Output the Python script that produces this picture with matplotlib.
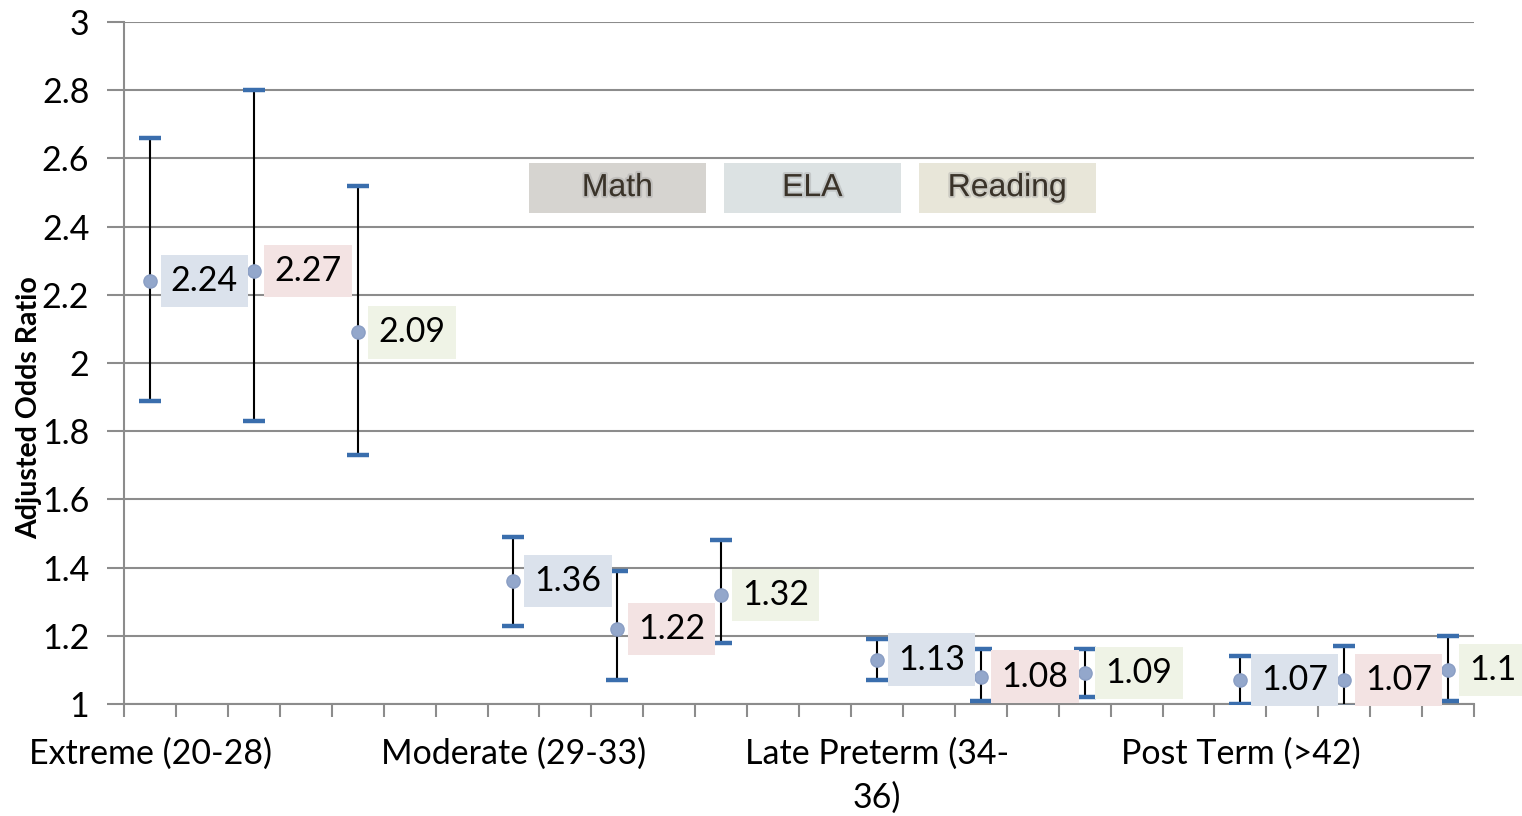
import numpy as np
import matplotlib.pyplot as plt
from matplotlib.patches import Rectangle
import matplotlib.patheffects as pe

plt.rcParams['font.family'] = ['Lato', 'DejaVu Sans']

# 26 category slots, labels every 7 slots
groups = ['Extreme (20-28)', 'Moderate (29-33)', 'Late Preterm (34-\n36)', 'Post Term (>42)']
group_slots = [0, 7, 14, 21]

# three series per group (offsets 0, 2, 4 within group)
series_names = ['Math', 'ELA', 'Reading']
s1_val = [2.24, 1.36, 1.13, 1.07]
s1_hi = [2.66, 1.49, 1.19, 1.14]
s1_lo = [1.89, 1.23, 1.07, 1.00]
s2_val = [2.27, 1.22, 1.08, 1.07]
s2_hi = [2.80, 1.39, 1.16, 1.17]
s2_lo = [1.83, 1.07, 1.01, 0.99]
s3_val = [2.09, 1.32, 1.09, 1.10]
s3_hi = [2.52, 1.48, 1.16, 1.20]
s3_lo = [1.73, 1.18, 1.02, 1.01]

label_colors = ['#dbe2ec', '#f3e3e3', '#eff3e6']
legend_colors = ['#d6d4d0', '#dce2e3', '#e8e6d9']

fig = plt.figure(figsize=(15.22, 8.16), dpi=100)
ax = fig.add_axes([0.0815, 0.1373, 0.887, 0.8357])

series = [(s1_val, s1_hi, s1_lo), (s2_val, s2_hi, s2_lo), (s3_val, s3_hi, s3_lo)]
for k, (val, hi, lo) in enumerate(series):
    x = np.array(group_slots) + 2 * k
    val = np.array(val)
    yerr = [val - np.array(lo), np.array(hi) - val]
    _, caps, bars = ax.errorbar(x, val, yerr=yerr, fmt='none', ecolor='black',
                                elinewidth=1.5, capsize=8, capthick=3.2, zorder=3)
    for c in caps:
        c.set_markeredgecolor('#3a6ead')
        c.set_markerfacecolor('#3a6ead')
        c.set_clip_on(True)
    ax.plot(x, val, 'o', ms=9.5, color='#93a7cb', mec='#8a9ec4', zorder=4,
            clip_on=False)
    for xi, v in zip(x, val):
        ax.annotate('%g' % v, (xi, v), xytext=(15, 0), textcoords='offset points',
                    va='center', ha='left', fontsize=24.5, color='black',
                    bbox=dict(boxstyle='square,pad=0.3', fc=label_colors[k], ec='none'),
                    annotation_clip=False, zorder=5)

ax.set_xlim(-0.5, 25.5)
ax.set_ylim(1, 3)
ax.set_yticks(np.arange(1, 3.01, 0.2))
ax.set_yticklabels(['1', '1.2', '1.4', '1.6', '1.8', '2', '2.2', '2.4', '2.6', '2.8', '3'])
ax.set_xticks(group_slots)
ax.set_xticklabels(groups, linespacing=1.45)
ax.set_xticks(np.arange(-0.5, 25.6, 1), minor=True)
ax.tick_params(axis='x', which='major', length=0, pad=24, labelsize=24.5)
ax.tick_params(axis='x', which='minor', length=9, width=1.5, color='#8c8c8c', direction='out')
ax.tick_params(axis='y', length=12, width=1.5, color='#8c8c8c', pad=13, labelsize=24.5)
ax.grid(axis='y', color='#8c8c8c', lw=1.5)
ax.set_axisbelow(True)
for s in ['top', 'right']:
    ax.spines[s].set_visible(False)
for s in ['left', 'bottom']:
    ax.spines[s].set_color('#8c8c8c')
    ax.spines[s].set_linewidth(1.5)

ax.set_ylabel('Adjusted Odds Ratio', fontsize=20.5, fontweight='bold')
ax.yaxis.set_label_coords(-0.061, 0.435)

# legend boxes
for i, name in enumerate(series_names):
    x0 = 0.30 + i * 0.1444
    ax.add_patch(Rectangle((x0, 0.72), 0.1311, 0.0733, transform=ax.transAxes,
                           fc=legend_colors[i], ec='none', zorder=6))
    ax.text(x0 + 0.0655, 0.7565, name, transform=ax.transAxes, ha='center', va='center',
            fontsize=23, color='#3a3329', family=['Liberation Sans', 'DejaVu Sans'], zorder=7,
            path_effects=[pe.Stroke(linewidth=3, foreground='#9a9a9a', alpha=0.35), pe.Normal()])

fig.savefig('out.png', dpi=100)
